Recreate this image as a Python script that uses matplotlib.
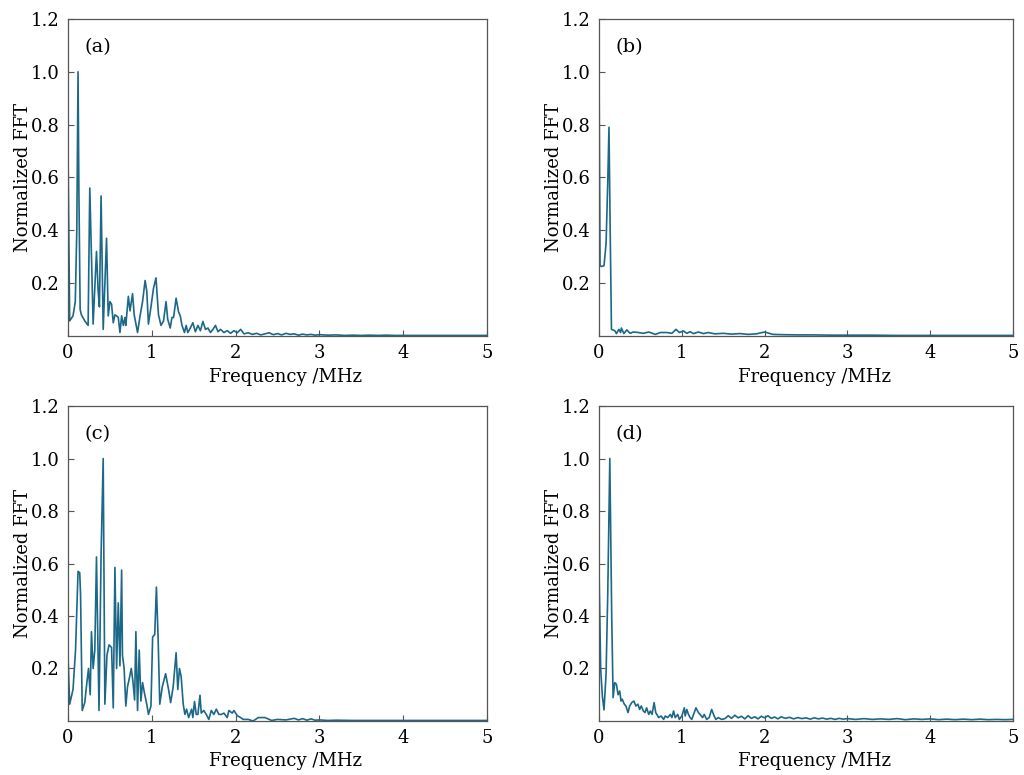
import matplotlib
matplotlib.use('Agg')
import matplotlib.pyplot as plt

#====================================================================
''' Spectra read off the figure (frequency in MHz, normalized FFT) '''
freq_a = [0.0, 0.02, 0.06, 0.087, 0.105, 0.12, 0.13, 0.145, 0.16, 0.2, 0.24, 0.26, 0.30, 0.34,
          0.36, 0.375, 0.395, 0.42, 0.46, 0.48, 0.50, 0.52, 0.54, 0.56, 0.58, 0.60, 0.62,
          0.64, 0.66, 0.68, 0.69, 0.72, 0.74, 0.77, 0.79, 0.83, 0.86, 0.89, 0.92, 0.94,
          0.96, 0.99, 1.02, 1.05, 1.08, 1.11, 1.14, 1.17, 1.19, 1.22, 1.24, 1.26, 1.29,
          1.32, 1.34, 1.36, 1.39, 1.41, 1.43, 1.46, 1.49, 1.52, 1.55, 1.58, 1.61, 1.64,
          1.67, 1.70, 1.73, 1.76, 1.79, 1.82, 1.86, 1.90, 1.94, 1.98, 2.02, 2.06, 2.10,
          2.15, 2.20, 2.25, 2.30, 2.35, 2.40, 2.45, 2.50, 2.55, 2.60, 2.65, 2.70, 2.75,
          2.80, 2.85, 2.90, 2.95, 3.0, 3.1, 3.2, 3.3, 3.4, 3.5, 3.6, 3.7, 3.8, 3.9, 4.0,
          4.2, 4.4, 4.6, 4.8, 5.0]
fft_a = [0.70, 0.057, 0.076, 0.13, 0.40, 1.0, 0.55, 0.10, 0.08, 0.057, 0.04, 0.56, 0.045, 0.32,
         0.17, 0.11, 0.53, 0.025, 0.37, 0.076, 0.13, 0.12, 0.05, 0.08, 0.076, 0.07, 0.013,
         0.076, 0.04, 0.07, 0.04, 0.15, 0.095, 0.16, 0.08, 0.013, 0.076, 0.13, 0.21, 0.17,
         0.045, 0.11, 0.18, 0.22, 0.08, 0.04, 0.057, 0.13, 0.063, 0.03, 0.07, 0.07, 0.143,
         0.09, 0.076, 0.04, 0.013, 0.04, 0.013, 0.03, 0.05, 0.016, 0.04, 0.02, 0.055, 0.025,
         0.03, 0.013, 0.025, 0.04, 0.016, 0.025, 0.013, 0.02, 0.01, 0.02, 0.012, 0.025, 0.008,
         0.012, 0.006, 0.010, 0.004, 0.008, 0.012, 0.005, 0.009, 0.004, 0.010, 0.006, 0.008, 0.003,
         0.007, 0.004, 0.006, 0.003, 0.005, 0.003, 0.004, 0.002, 0.003, 0.002, 0.003, 0.002, 0.003,
         0.002, 0.002, 0.002, 0.002, 0.002, 0.002, 0.002]

freq_b = [0.0, 0.012, 0.03, 0.06, 0.085, 0.105, 0.12, 0.135, 0.15, 0.19, 0.21, 0.24, 0.26,
          0.27, 0.30, 0.335, 0.375, 0.415, 0.475, 0.535, 0.60, 0.68, 0.74, 0.82, 0.88, 0.93,
          0.97, 1.02, 1.06, 1.10, 1.14, 1.20, 1.26, 1.32, 1.40, 1.50, 1.60, 1.70, 1.80, 1.90,
          2.0, 2.1, 2.2, 2.4, 2.6, 2.8, 3.0, 3.3, 3.6, 4.0, 4.5, 5.0]
fft_b = [1.0, 0.266, 0.263, 0.266, 0.35, 0.58, 0.79, 0.39, 0.025, 0.02, 0.009, 0.025, 0.013,
         0.03, 0.009, 0.023, 0.01, 0.015, 0.013, 0.01, 0.015, 0.006, 0.013, 0.013, 0.01, 0.025,
         0.013, 0.019, 0.01, 0.016, 0.009, 0.015, 0.009, 0.013, 0.008, 0.010, 0.007, 0.009, 0.006,
         0.008, 0.015, 0.006, 0.005, 0.004, 0.004, 0.003, 0.003, 0.003, 0.002, 0.002, 0.002, 0.002]

freq_c = [0.0, 0.02, 0.06, 0.09, 0.12, 0.14, 0.15, 0.17, 0.20, 0.225, 0.245, 0.265, 0.28, 0.30,
          0.32, 0.34, 0.37, 0.395, 0.42, 0.44, 0.465, 0.49, 0.52, 0.54, 0.56, 0.58, 0.60,
          0.62, 0.64, 0.65, 0.67, 0.69, 0.71, 0.73, 0.755, 0.775, 0.795, 0.81, 0.83, 0.85,
          0.87, 0.89, 0.91, 0.94, 0.96, 0.99, 1.01, 1.035, 1.055, 1.075, 1.095, 1.125, 1.165,
          1.20, 1.225, 1.255, 1.29, 1.31, 1.33, 1.35, 1.375, 1.395, 1.415, 1.44, 1.475, 1.49,
          1.51, 1.53, 1.55, 1.575, 1.59, 1.62, 1.65, 1.68, 1.71, 1.74, 1.77, 1.80, 1.83, 1.86,
          1.90, 1.92, 1.96, 1.98, 2.02, 2.06, 2.09, 2.15, 2.21, 2.27, 2.35, 2.43, 2.50, 2.60,
          2.70, 2.75, 2.80, 2.85, 2.90, 2.95, 3.0, 3.1, 3.2, 3.4, 3.6, 3.8, 4.0, 4.3, 4.6, 5.0]
fft_c = [0.25, 0.064, 0.12, 0.27, 0.57, 0.565, 0.48, 0.04, 0.07, 0.146, 0.20, 0.10, 0.34, 0.20,
         0.27, 0.625, 0.04, 0.635, 1.0, 0.064, 0.25, 0.29, 0.28, 0.05, 0.585, 0.20, 0.45,
         0.21, 0.575, 0.25, 0.20, 0.057, 0.13, 0.16, 0.20, 0.15, 0.08, 0.34, 0.04, 0.27,
         0.076, 0.146, 0.11, 0.064, 0.025, 0.057, 0.32, 0.33, 0.51, 0.32, 0.064, 0.13, 0.18,
         0.12, 0.07, 0.13, 0.26, 0.12, 0.20, 0.17, 0.064, 0.025, 0.045, 0.013, 0.045, 0.013,
         0.074, 0.025, 0.025, 0.098, 0.03, 0.04, 0.025, 0.006, 0.04, 0.025, 0.045, 0.025, 0.025, 0.03,
         0.013, 0.04, 0.03, 0.04, 0.02, 0.013, 0.006, 0.006, 0.0, 0.013, 0.013, 0.002, 0.006, 0.004,
         0.010, 0.004, 0.009, 0.003, 0.008, 0.003, 0.004, 0.002, 0.003, 0.002, 0.002, 0.002, 0.002,
         0.002, 0.002, 0.002]

freq_d = [0.0, 0.02, 0.04, 0.06, 0.085, 0.105, 0.13, 0.153, 0.17, 0.19, 0.21, 0.23, 0.25,
          0.265, 0.28, 0.305, 0.325, 0.35, 0.37, 0.395, 0.42, 0.445, 0.47, 0.49, 0.51, 0.535,
          0.555, 0.575, 0.60, 0.62, 0.64, 0.665, 0.685, 0.72, 0.75, 0.78, 0.80, 0.83, 0.86,
          0.88, 0.90, 0.92, 0.95, 0.97, 1.00, 1.03, 1.04, 1.06, 1.08, 1.10, 1.12, 1.15, 1.17,
          1.20, 1.22, 1.25, 1.27, 1.30, 1.33, 1.36, 1.39, 1.41, 1.44, 1.48, 1.52, 1.56, 1.60,
          1.64, 1.68, 1.72, 1.76, 1.80, 1.84, 1.88, 1.92, 1.96, 2.00, 2.04, 2.08, 2.12, 2.16,
          2.20, 2.25, 2.30, 2.35, 2.40, 2.45, 2.50, 2.55, 2.60, 2.65, 2.70, 2.75, 2.80, 2.85,
          2.90, 2.95, 3.00, 3.10, 3.20, 3.30, 3.40, 3.50, 3.60, 3.70, 3.80, 3.90, 4.00, 4.10,
          4.20, 4.30, 4.40, 4.50, 4.60, 4.70, 4.80, 4.90, 5.00]
fft_d = [0.57, 0.197, 0.095, 0.042, 0.18, 0.48, 1.0, 0.40, 0.089, 0.146, 0.14, 0.10, 0.114,
         0.076, 0.083, 0.064, 0.057, 0.032, 0.057, 0.07, 0.076, 0.057, 0.064, 0.044, 0.057, 0.038,
         0.032, 0.05, 0.025, 0.038, 0.025, 0.07, 0.032, 0.013, 0.019, 0.006, 0.019, 0.013, 0.025,
         0.013, 0.038, 0.013, 0.025, 0.006, 0.019, 0.05, 0.019, 0.044, 0.025, 0.013, 0.006, 0.032, 0.05,
         0.032, 0.025, 0.013, 0.025, 0.006, 0.013, 0.044, 0.019, 0.006, 0.013, 0.006, 0.009, 0.020, 0.010,
         0.022, 0.012, 0.018, 0.008, 0.020, 0.010, 0.016, 0.008, 0.018, 0.012, 0.020, 0.010, 0.015, 0.008,
         0.016, 0.010, 0.014, 0.008, 0.013, 0.009, 0.012, 0.007, 0.012, 0.008, 0.011, 0.007, 0.010, 0.006,
         0.010, 0.007, 0.009, 0.006, 0.009, 0.006, 0.008, 0.006, 0.009, 0.005, 0.008, 0.006, 0.008, 0.005,
         0.007, 0.005, 0.007, 0.005, 0.007, 0.005, 0.006, 0.005, 0.006]

panel_labels = ['(a)', '(b)', '(c)', '(d)']
x_ticks = [0, 1, 2, 3, 4, 5]
y_ticks = [0.2, 0.4, 0.6, 0.8, 1.0, 1.2]
#====================================================================

plt.rcParams['font.family'] = 'DejaVu Serif'
line_color = '#1c6888'
spine_color = '#555555'

fig = plt.figure(figsize=(10.24, 7.75), dpi=100)

''' axes boxes in figure fractions: left, bottom, width, height '''
boxes = [[0.0664, 0.5665, 0.4092, 0.409],
         [0.5850, 0.5665, 0.4043, 0.409],
         [0.0664, 0.0697, 0.4092, 0.4064],
         [0.5850, 0.0697, 0.4043, 0.4064]]
series = [(freq_a, fft_a), (freq_b, fft_b), (freq_c, fft_c), (freq_d, fft_d)]

for box, (f, v), lab in zip(boxes, series, panel_labels):
    ax = fig.add_axes(box)
    ax.plot(f, v, color=line_color, lw=1.2)
    ax.set_xlim(0, 5)
    ax.set_ylim(0, 1.2)
    ax.set_xticks(x_ticks)
    ax.set_yticks(y_ticks)
    ax.set_yticklabels(['%.1f' % t for t in y_ticks])
    ax.tick_params(direction='in', length=4, width=0.8, color=spine_color,
                   labelsize=13, pad=6)
    for s in ax.spines.values():
        s.set_color(spine_color)
        s.set_linewidth(0.9)
    ax.set_xlabel('Frequency /MHz', fontsize=13)
    ax.xaxis.set_label_coords(0.52, -0.1)
    ax.set_ylabel('Normalized FFT', fontsize=13, labelpad=-1)
    ax.text(0.04, 0.895, lab, transform=ax.transAxes, fontsize=14)

fig.savefig('out.png', dpi=100)
